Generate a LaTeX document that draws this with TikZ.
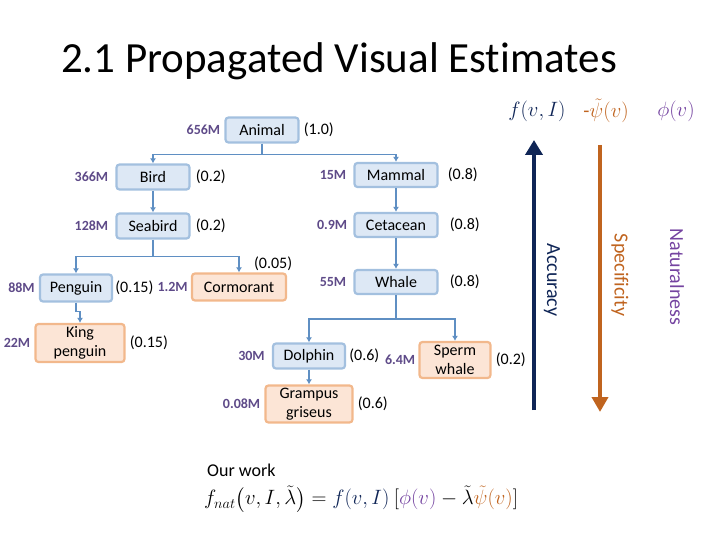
\documentclass[tikz,border=0pt]{standalone}
\usepackage{fontspec}
\setmainfont{Carlito}[Ligatures={NoCommon}]
\usepackage{amsmath}
\usetikzlibrary{arrows.meta,positioning,calc}
\definecolor{boxblue}{HTML}{DDE8F5}
\definecolor{edgeblue}{HTML}{A3C0DF}
\definecolor{linkblue}{HTML}{5F8FC3}
\definecolor{boxorange}{HTML}{FCE5D6}
\definecolor{edgeorange}{HTML}{F2B88C}
\definecolor{countpurple}{HTML}{5E4A88}
\definecolor{accnavy}{HTML}{0F2556}
\definecolor{specbrown}{HTML}{C0641F}
\definecolor{natpurple}{HTML}{7443A0}

\begin{document}
\begin{tikzpicture}[
    x=1pt, y=-1pt,
    box/.style    = {draw=edgeblue, fill=boxblue, line width=2.2pt, rounded corners=3pt,
                     minimum height=25pt, minimum width=73pt, inner sep=2pt, align=center,
                     font=\fontsize{16}{18.5}\selectfont},
    leaf/.style   = {box, draw=edgeorange, fill=boxorange},
    count/.style  = {font=\fontsize{14}{16}\selectfont\bfseries, text=countpurple, inner sep=1pt},
    score/.style  = {font=\fontsize{16}{18}\selectfont, inner sep=1pt},
    link/.style   = {draw=linkblue, line width=1.6pt, -{Latex[length=5pt,width=6pt]}},
    linkline/.style = {draw=linkblue, line width=1.6pt},
    axis/.style   = {font=\fontsize{20}{22}\selectfont, rotate=-90, inner sep=1pt},
    head/.style   = {font=\fontsize{20}{22}\selectfont, inner sep=0pt},
  ]
  \useasboundingbox (0,0) rectangle (720,540);

  % --- Title -----------------------------------------------------------
  \node[font=\fontsize{43}{48}\selectfont] (title) at (339,61) {2.1 Propagated Visual Estimates};

  % --- Taxonomy nodes --------------------------------------------------
  \node[box] (animal)  at (262,130) {Animal};
  \node[box] (bird)    at (153,177) {Bird};
  \node[box] (seabird) at (153,226) {Seabird};
  \node[box, minimum width=72pt, minimum height=27pt] (penguin) at (76,288) {Penguin};
  \node[leaf, minimum width=94pt, minimum height=27pt] (cormorant) at (239,287) {Cormorant};
  \node[leaf, minimum width=89pt, minimum height=38pt] (king) at (80,343) {King\\penguin};
  \node[box, minimum width=83pt, minimum height=24pt] (mammal)   at (396,175) {Mammal};
  \node[box, minimum width=83pt, minimum height=24pt] (cetacean) at (396,225) {Cetacean};
  \node[box, minimum width=83pt, minimum height=24pt] (whale)    at (396,282) {Whale};
  \node[box, minimum width=72pt] (dolphin) at (309,356) {Dolphin};
  \node[leaf, minimum width=71pt, minimum height=36pt] (sperm)   at (455,360) {Sperm\\whale};
  \node[leaf, minimum width=87pt, minimum height=37pt] (grampus) at (309,404) {Grampus\\griseus};

  % --- Image counts (left) ---------------------------------------------
  \node[count, left=3pt of animal]    {656M};
  \node[count, left=6pt of bird]      {366M};
  \node[count, left=6pt of seabird]   {128M};
  \node[count, left=3pt of penguin]   {88M};
  \node[count, left=2pt of cormorant] {1.2M};
  \node[count, left=3pt of king]      {22M};
  \node[count, left=6pt of mammal]    {15M};
  \node[count, left=5pt of cetacean]  {0.9M};
  \node[count, left=6pt of whale]     {55M};
  \node[count, left=6pt of dolphin]   {30M};
  \node[count, left=2pt of sperm]     {6.4M};
  \node[count, left=3pt of grampus]   {0.08M};

  % --- Scores (right) --------------------------------------------------
  \node[score, right=3pt of animal]   {(1.0)};
  \node[score, right=4pt of bird]     {(0.2)};
  \node[score, right=4pt of seabird]  {(0.2)};
  \node[score, right=1pt of penguin]  {(0.15)};
  \node[score] (cormscore) at ($(cormorant.north east)+(-14,-9)$) {(0.05)};
  \node[score, right=3pt of king]     {(0.15)};
  \node[score, right=8pt of mammal]   {(0.8)};
  \node[score, right=10pt of cetacean] {(0.8)};
  \node[score, right=10pt of whale]   {(0.8)};
  \node[score, right=2pt of dolphin]  {(0.6)};
  \node[score, right=3pt of sperm]    {(0.2)};
  \node[score, right=3pt of grampus]  {(0.6)};

  % --- Connectors ------------------------------------------------------
  \coordinate (animalfork)  at ($(animal.south)+(0,11)$);
  \coordinate (seabirdfork) at ($(seabird.south)+(0,17)$);
  \coordinate (whalefork)   at ($(whale.south)+(0,24)$);

  \draw[linkline] (animal.south) -- (animalfork);
  \draw[link] (animalfork) -| (bird.north);
  \draw[link] (animalfork) -| (mammal.north);
  \draw[link] (bird) -- (seabird);
  \draw[linkline] (seabird.south) -- (seabirdfork);
  \draw[link] (seabirdfork) -| (penguin.north);
  \draw[link] (seabirdfork) -| (cormorant.north);
  \draw[link] (penguin.south) -- ++(0,9) -| (king.north);
  \draw[link] (mammal) -- (cetacean);
  \draw[link] (cetacean) -- (whale);
  \draw[linkline] (whale.south) -- (whalefork);
  \draw[link] (whalefork) -| (dolphin.north);
  \draw[link] (whalefork) -| (sperm.north);
  \draw[link] (dolphin) -- (grampus);

  % --- Objective axes --------------------------------------------------
  \coordinate (accbot)  at (534,410);
  \coordinate (acctop)  at (534,140);
  \coordinate (spectop) at (600,145);
  \coordinate (specbot) at (600,412);
  \draw[draw=accnavy, line width=4.5pt, -{Triangle[length=15pt,width=17pt]}] (accbot) -- (acctop);
  \draw[draw=specbrown, fill=specbrown, line width=4pt, -{Triangle[length=15pt,width=16pt]}] (spectop) -- (specbot);

  \node[axis, text=accnavy]    (acc)  at (552,280) {Accuracy};
  \node[axis, text=specbrown]  (spec) at (620,275) {Specificity};
  \node[axis, text=natpurple]  (nat)  at (677,277) {Naturalness};

  \node[head, text=accnavy]   (fhead)   at (537,111) {$f(v,I)$};
  \node[head, text=specbrown] (psihead) at (606,111) {$\text{-}\tilde{\psi}(v)$};
  \node[head, text=natpurple] (phihead) at (676,111) {$\phi(v)$};

  % --- Our work --------------------------------------------------------
  \node[font=\fontsize{18}{20}\selectfont, anchor=west, inner sep=0pt] (ourwork) at (207,470) {Our work};
  \node[font=\fontsize{20}{24}\selectfont, anchor=west, inner sep=0pt] (formula) at (204,499)
    {$f_{nat}\big(v,I,\tilde{\lambda}\big) = \textcolor{accnavy}{f(v,I)}\ [\textcolor{natpurple}{\phi(v)} - \tilde{\lambda}\textcolor{specbrown}{\tilde{\psi}(v)}]$};

\end{tikzpicture}
\end{document}
